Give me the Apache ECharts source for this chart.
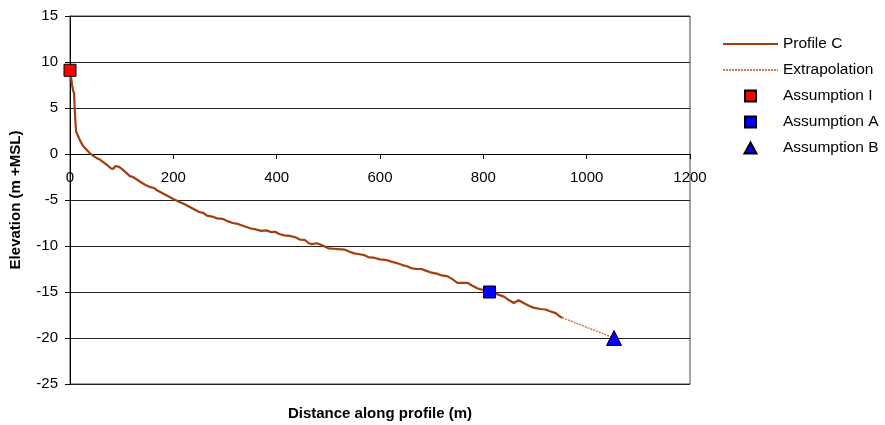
<!DOCTYPE html>
<html>
<head>
<meta charset="utf-8">
<style>
  html, body { margin: 0; padding: 0; background: #fff; }
  #main { width: 885px; height: 425px; }
</style>
<script src="https://cdn.jsdelivr.net/npm/echarts@6/dist/echarts.min.js"></script>
</head>
<body>
<div id="main"></div>
<script>
// profile C (distance m, elevation m +MSL)
const profileDistance = [
  0, 2, 4, 6, 8, 9, 10, 11, 12, 16, 20, 25, 30, 38, 45, 52, 58, 65, 72, 80,
  84, 88, 91, 95, 102, 110, 116, 122, 130, 138, 147, 155, 163, 170, 180, 190, 200, 211, 220, 230,
  240, 250, 258, 265, 275, 285, 295, 305, 315, 325, 340, 350, 360, 370, 380, 390, 397, 405, 415, 425,
  436, 445, 455, 462, 468, 478, 487, 500, 510, 520, 532, 540, 550, 560, 570, 577, 590, 600, 610, 622,
  635, 645, 652, 660, 670, 680, 690, 700, 710, 720, 731, 740, 750, 760, 769, 778, 788, 800, 812, 825,
  840, 850, 859, 868, 878, 888, 897, 910, 920, 929, 940, 949, 953
];
const profileElevation = [
  9.1, 8.4, 7.5, 6.9, 6.6, 5.0, 4.0, 3.0, 2.4, 1.9, 1.4, 0.9, 0.6, 0.1, -0.2, -0.45, -0.6, -0.9, -1.2, -1.6,
  -1.6, -1.3, -1.2, -1.4, -1.7, -2.1, -2.4, -2.5, -2.8, -3.1, -3.4, -3.6, -3.7, -4.0, -4.3, -4.6, -4.9, -5.2, -5.4, -5.7,
  -6.0, -6.3, -6.4, -6.7, -6.8, -7.0, -7.05, -7.3, -7.5, -7.6, -7.9, -8.1, -8.2, -8.35, -8.3, -8.5, -8.45, -8.7, -8.85, -8.9,
  -9.05, -9.3, -9.35, -9.7, -9.8, -9.7, -9.9, -10.25, -10.3, -10.35, -10.4, -10.6, -10.8, -10.9, -11.0, -11.2, -11.3, -11.45, -11.5, -11.7,
  -11.9, -12.1, -12.2, -12.4, -12.5, -12.5, -12.7, -12.9, -13.0, -13.2, -13.3, -13.6, -14.0, -14.0, -14.0, -14.3, -14.6, -14.8, -15.0, -15.2,
  -15.5, -15.9, -16.2, -15.9, -16.2, -16.5, -16.7, -16.85, -16.9, -17.1, -17.3, -17.7, -17.8
];
const extrapDistance = [953, 1053];
const extrapElevation = [-17.8, -20];

const assumptionI = [0, 9.1];
const assumptionA = [812, -15];
const assumptionB = [1053, -20];

const font = "'Liberation Sans', Arial, sans-serif";
const squareIcon = 'path://M0,0L10,0L10,10L0,10Z';
const triangleIcon = 'path://M6,0L12,11L0,11Z';

// plot box: 16..384 px for -25..15, so y = 0 sits 230 px above the bottom
const gridTop = 16, gridBottom = 41;
const zeroOffset = -230;

function zip(xs, ys) {
  return xs.map((x, i) => [x, ys[i]]);
}

const chart = echarts.init(document.getElementById('main'), null, { renderer: 'canvas' });

chart.setOption({
  animation: false,
  backgroundColor: '#fff',
  grid: {
    left: 70,
    right: 195,
    top: gridTop,
    bottom: gridBottom,
    outerBoundsMode: 'none',
    containLabel: false,
    show: true,
    borderColor: '#444',
    borderWidth: 1
  },
  legend: {
    orient: 'vertical',
    left: 717,
    top: 30,
    itemWidth: 55,
    itemHeight: 11,
    itemGap: 8,
    symbolKeepAspect: true,
    data: [
      { name: 'Profile C', itemStyle: { opacity: 0 } },
      { name: 'Extrapolation', itemStyle: { opacity: 0 } },
      { name: 'Assumption I', icon: squareIcon },
      { name: 'Assumption A', icon: squareIcon },
      { name: 'Assumption B', icon: triangleIcon }
    ],
    textStyle: { fontFamily: font, fontSize: 15.5, color: '#000', lineHeight: 18 }
  },
  xAxis: {
    type: 'value',
    min: 0,
    max: 1200,
    interval: 200,
    position: 'bottom',
    offset: zeroOffset,
    name: 'Distance along profile (m)',
    nameLocation: 'middle',
    nameGap: 252,
    nameTextStyle: { fontFamily: font, fontSize: 15, fontWeight: 'bold', color: '#000' },
    axisLine: { onZero: false, lineStyle: { color: '#000', width: 1 } },
    axisTick: { show: true, length: 5, lineStyle: { color: '#000' } },
    axisLabel: { margin: 16, fontFamily: font, fontSize: 15, color: '#000', formatter: v => String(v) },
    splitLine: { show: false }
  },
  yAxis: {
    type: 'value',
    min: -25,
    max: 15,
    interval: 5,
    name: 'Elevation (m +MSL)',
    nameLocation: 'middle',
    nameGap: 47,
    nameTextStyle: { fontFamily: font, fontSize: 15, fontWeight: 'bold', color: '#000' },
    axisLine: { show: true, onZero: false, lineStyle: { color: '#000', width: 1 } },
    axisTick: { show: true, length: 5, lineStyle: { color: '#000' } },
    axisLabel: { margin: 12, fontFamily: font, fontSize: 15, color: '#000', formatter: v => String(v) },
    splitLine: { show: true, lineStyle: { color: '#222', width: 1 } }
  },
  series: [
    {
      name: 'Profile C',
      type: 'line',
      data: zip(profileDistance, profileElevation),
      showSymbol: false,
      symbol: 'none',
      lineStyle: { color: '#A33F0E', width: 2.2 },
      itemStyle: { color: '#A33F0E' },
      z: 3
    },
    {
      name: 'Extrapolation',
      type: 'line',
      data: zip(extrapDistance, extrapElevation),
      showSymbol: false,
      symbol: 'none',
      lineStyle: { color: '#CC7A55', width: 1.5, type: [2, 1] },
      itemStyle: { color: '#CC7A55' },
      z: 3
    },
    {
      name: 'Assumption I',
      type: 'scatter',
      data: [assumptionI],
      symbol: 'rect',
      symbolSize: 12,
      itemStyle: { color: '#FF0000', borderColor: '#000', borderWidth: 1, opacity: 1 },
      z: 5
    },
    {
      name: 'Assumption A',
      type: 'scatter',
      data: [assumptionA],
      symbol: 'rect',
      symbolSize: 12,
      itemStyle: { color: '#0000FF', borderColor: '#000', borderWidth: 1, opacity: 1 },
      z: 5
    },
    {
      name: 'Assumption B',
      type: 'scatter',
      data: [assumptionB],
      symbol: 'triangle',
      symbolSize: 15,
      itemStyle: { color: '#0000FF', borderColor: '#000', borderWidth: 1, opacity: 1 },
      z: 5
    }
  ]
});
</script>
</body>
</html>
